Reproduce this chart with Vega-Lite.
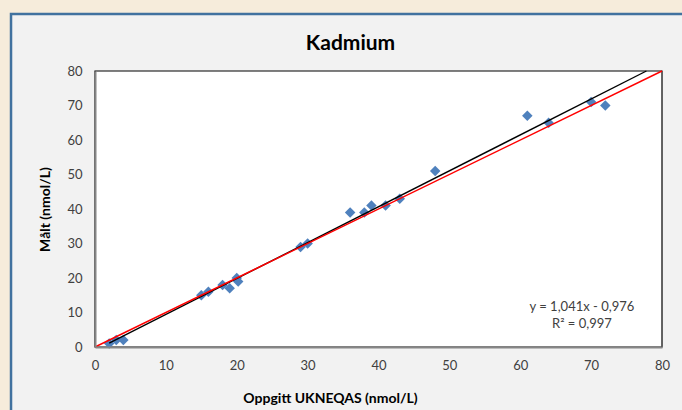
{
  "$schema": "https://vega.github.io/schema/vega-lite/v6.json",
  "width": 567,
  "height": 276,
  "autosize": {"type": "none"},
  "padding": {"left": 95, "top": 71, "right": 20, "bottom": 63},
  "background": "#F6ECDB",
  "title": {
    "text": "Kadmium",
    "font": "Lato",
    "fontSize": 21,
    "fontWeight": "bold",
    "color": "#000000",
    "anchor": "middle",
    "baseline": "alphabetic",
    "offset": -58,
    "dx": -28,
    "zindex": 2
  },
  "config": {
    "view": {"stroke": null},
    "font": "Lato",
    "axis": {"labelOverlap": false, "grid": false, "ticks": false}
  },
  "datasets": {
    "punkter": [
      {"oppgitt": 2, "malt": 1},
      {"oppgitt": 3, "malt": 2},
      {"oppgitt": 4, "malt": 2},
      {"oppgitt": 15, "malt": 15},
      {"oppgitt": 16, "malt": 16},
      {"oppgitt": 18, "malt": 18},
      {"oppgitt": 19, "malt": 17},
      {"oppgitt": 20, "malt": 20},
      {"oppgitt": 20.2, "malt": 19},
      {"oppgitt": 29, "malt": 29},
      {"oppgitt": 30, "malt": 30},
      {"oppgitt": 36, "malt": 39},
      {"oppgitt": 38, "malt": 39},
      {"oppgitt": 39, "malt": 41},
      {"oppgitt": 41, "malt": 41},
      {"oppgitt": 43, "malt": 43},
      {"oppgitt": 48, "malt": 51},
      {"oppgitt": 61, "malt": 67},
      {"oppgitt": 64, "malt": 65},
      {"oppgitt": 70, "malt": 71},
      {"oppgitt": 72, "malt": 70}
    ],
    "trend": [
      {"oppgitt": 2, "malt": 1.106},
      {"oppgitt": 77.8, "malt": 80}
    ],
    "identitet": [
      {"oppgitt": 0, "malt": 0},
      {"oppgitt": 80, "malt": 80}
    ]
  },
  "layer": [
    {
      "data": {"values": [{}]},
      "mark": {"type": "rect", "fill": "#F2F2F2", "stroke": "#41729F", "strokeWidth": 2.5, "clip": false},
      "encoding": {
        "x": {"datum": -11.85, "type": "quantitative", "scale": {"domain": [0, 80], "nice": false, "zero": false},
          "axis": {
            "values": [0, 10, 20, 30, 40, 50, 60, 70, 80],
            "title": "Oppgitt UKNEQAS (nmol/L)",
            "grid": false,
            "ticks": false,
            "domainColor": "#868686",
            "domainWidth": 2,
            "labelFont": "Lato",
            "labelFontSize": 13,
            "labelColor": "#404040",
            "labelPadding": 12,
            "labelFlush": false,
            "labelOverlap": false,
            "titleFont": "Lato",
            "titleFontSize": 14,
            "titleFontWeight": "bold",
            "titleColor": "#000000",
            "titleX": 235,
            "titleY": 51,
            "titleAlign": "center",
            "titleBaseline": "middle",
            "zindex": 2
          }},
        "x2": {"datum": 90},
        "y": {"datum": 96.5, "type": "quantitative", "scale": {"domain": [0, 80], "nice": false, "zero": false},
          "axis": {
            "values": [0, 10, 20, 30, 40, 50, 60, 70, 80],
            "tickCount": 9,
            "title": "Målt (nmol/L)",
            "grid": false,
            "ticks": false,
            "domainColor": "#868686",
            "domainWidth": 2,
            "labelFont": "Lato",
            "labelFontSize": 13,
            "labelColor": "#404040",
            "labelPadding": 13,
            "labelFlush": false,
            "labelOverlap": false,
            "titleFont": "Lato",
            "titleFontSize": 14,
            "titleFontWeight": "bold",
            "titleColor": "#000000",
            "titleX": -50,
            "titleY": 138,
            "titleAngle": 270,
            "titleAlign": "center",
            "titleBaseline": "middle",
            "zindex": 2
          }},
        "y2": {"datum": -25}
      }
    },
    {
      "data": {"values": [{}]},
      "mark": {"type": "rect", "fill": "#FFFFFF", "stroke": "#000000", "strokeWidth": 1.2},
      "encoding": {
        "x": {"datum": 0, "type": "quantitative"},
        "x2": {"datum": 80},
        "y": {"datum": 0, "type": "quantitative"},
        "y2": {"datum": 80}
      }
    },
    {
      "data": {"name": "punkter"},
      "mark": {"type": "point", "shape": "diamond", "filled": true, "size": 110, "color": "#4F81BD", "opacity": 1},
      "encoding": {
        "x": {"field": "oppgitt", "type": "quantitative"},
        "y": {"field": "malt", "type": "quantitative"}
      }
    },
    {
      "data": {"name": "trend"},
      "mark": {"type": "line", "color": "#000000", "strokeWidth": 1.4},
      "encoding": {
        "x": {"field": "oppgitt", "type": "quantitative"},
        "y": {"field": "malt", "type": "quantitative"}
      }
    },
    {
      "data": {"name": "identitet"},
      "mark": {"type": "line", "color": "#FF0000", "strokeWidth": 1.4},
      "encoding": {
        "x": {"field": "oppgitt", "type": "quantitative"},
        "y": {"field": "malt", "type": "quantitative"}
      }
    },
    {
      "data": {"values": [{}]},
      "mark": {"type": "text", "text": ["y = 1,041x - 0,976", "R² = 0,997"], "font": "Lato", "fontSize": 13, "color": "#404040", "align": "center", "baseline": "middle", "lineHeight": 17},
      "encoding": {
        "x": {"datum": 68.7, "type": "quantitative"},
        "y": {"datum": 11.6, "type": "quantitative"}
      }
    }
  ]
}
